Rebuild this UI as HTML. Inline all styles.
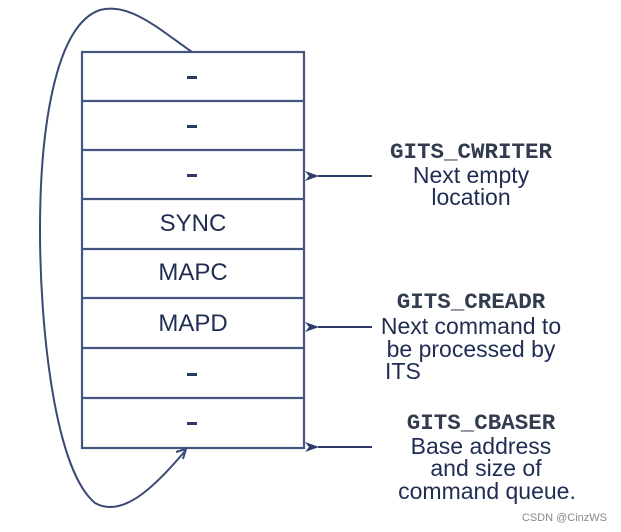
<!DOCTYPE html>
<html><head><style>
body{margin:0;background:#fff;width:621px;height:532px;overflow:hidden}
svg{display:block}
.s{font-family:"Liberation Sans",sans-serif;font-size:23px;fill:#1f2d52}
.b{font-family:"Liberation Sans",sans-serif;font-size:24px;fill:#1f2d52}
.m{font-family:"Liberation Mono",monospace;font-size:22.5px;font-weight:bold;fill:#333b4f}
</style></head><body>
<svg width="621" height="532" viewBox="0 0 621 532">
<defs><marker id="a" markerWidth="14" markerHeight="10" refX="1" refY="5" orient="auto" markerUnits="userSpaceOnUse"><path d="M14,0 L0,5 L14,10 L10,5z" fill="#2b3a66"/></marker></defs>
<g stroke="#44557f" stroke-width="2.2" fill="none">
<rect x="82" y="52" width="222" height="396"/>
<line x1="82" y1="101" x2="304" y2="101"/>
<line x1="82" y1="150" x2="304" y2="150"/>
<line x1="82" y1="199" x2="304" y2="199"/>
<line x1="82" y1="249" x2="304" y2="249"/>
<line x1="82" y1="298" x2="304" y2="298"/>
<line x1="82" y1="348" x2="304" y2="348"/>
<line x1="82" y1="398" x2="304" y2="398"/>
</g>
<path d="M192,52 C160,30 130,2 100,10 C55,25 40,130 40,230 C40,330 55,470 95,503 C125,520 160,480 186,450" stroke="#3a4a74" stroke-width="2" fill="none"/>
<path d="M176,452 L186,449 L183,459" stroke="#3a4a74" stroke-width="2" fill="none"/>
<g fill="#2b3a66">
<rect x="187" y="76" width="10" height="3"/>
<rect x="187" y="125" width="10" height="3"/>
<rect x="187" y="174" width="10" height="3"/>
<rect x="187" y="373" width="10" height="3"/>
<rect x="187" y="422" width="10" height="3"/>
</g>
<text class="b" x="193" y="231" text-anchor="middle">SYNC</text>
<text class="b" x="193" y="280" text-anchor="middle">MAPC</text>
<text class="b" x="193" y="331" text-anchor="middle">MAPD</text>
<g stroke="#2b3a66" stroke-width="2">
<line x1="372" y1="176" x2="318" y2="176" marker-end="url(#a)"/>
<line x1="372" y1="327" x2="318" y2="327" marker-end="url(#a)"/>
<line x1="372" y1="447" x2="318" y2="447" marker-end="url(#a)"/>
</g>
<text class="m" x="471" y="158" text-anchor="middle">GITS_CWRITER</text>
<text class="s" x="471" y="183" text-anchor="middle">Next empty</text>
<text class="s" x="471" y="205" text-anchor="middle">location</text>
<text class="m" x="471" y="308" text-anchor="middle">GITS_CREADR</text>
<text class="s" x="471" y="334" text-anchor="middle">Next command to</text>
<text class="s" x="471" y="357" text-anchor="middle">be processed by</text>
<text class="s" x="385" y="379">ITS</text>
<text class="m" x="481" y="429" text-anchor="middle">GITS_CBASER</text>
<text class="s" x="481" y="454" text-anchor="middle">Base address</text>
<text class="s" x="486" y="476" text-anchor="middle">and size of</text>
<text class="s" x="487" y="499" text-anchor="middle">command queue.</text>
<text x="607" y="521" text-anchor="end" font-family="Liberation Sans,sans-serif" font-size="11" fill="#888">CSDN @CinzWS</text>
</svg>
</body></html>
